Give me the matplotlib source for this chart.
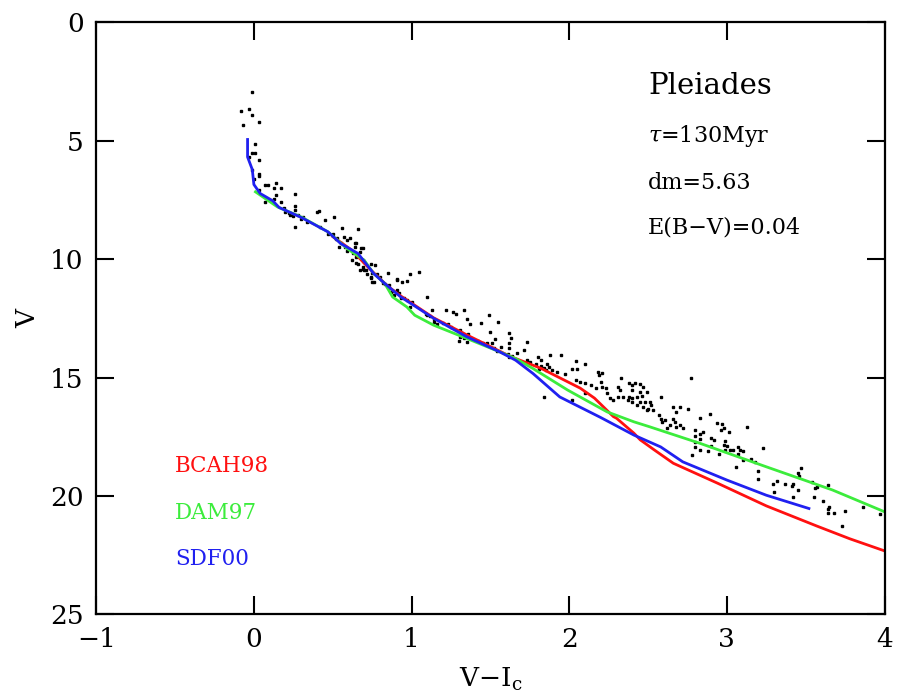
#
# Pleiades colour-magnitude diagram with three isochrone models
#

import matplotlib
matplotlib.use("Agg")
import matplotlib.pyplot as plt

# observed stars (V-Ic, V)
star_vi = [-0.01, -0.08, -0.03, -0.01, 0.03, -0.07, 0.01, -0.01, 0.01, -0.03,
           0.03, -0.01, 0.03, 0.03, 0.00, 0.03, 0.07, 0.09, 0.14, 0.13,
           0.17, 0.14, 0.13, 0.07, 0.17, 0.26, 0.26, 0.19, 0.26, 0.20,
           0.23, 0.28, 0.31, 0.30, 0.41, 0.40, 0.45, 0.51, 0.26, 0.34,
           0.42, 0.22, 0.25,
           0.56, 0.66, 0.57, 0.61, 0.59, 0.65, 0.68, 0.69, 0.53, 0.55,
           0.54, 0.63, 0.65, 0.65, 0.70, 0.69, 0.74, 0.77, 0.70, 0.72,
           0.74, 0.78, 0.80, 0.85, 0.75, 0.83, 0.86, 0.87, 0.91, 0.94,
           0.97, 0.99, 1.05, 0.92, 0.95, 0.99, 1.10, 1.13, 1.22, 1.26,
           1.28, 1.33, 1.35, 1.49, 1.55, 1.44, 1.37, 1.10, 1.14, 1.23,
           0.47, 0.50, 0.64, 0.52, 0.58, 0.59, 0.67, 0.62, 0.66, 0.69,
           0.69, 0.71, 0.75, 0.74, 0.76, 0.82, 0.86, 0.91, 0.88, 0.91,
           0.89, 0.93, 0.97, 1.00, 0.64, 0.67,
           1.09, 1.12, 1.14, 1.16, 1.20, 1.25, 1.31, 1.32, 1.36, 1.50,
           1.62, 1.30, 1.35, 1.42, 1.45, 1.48, 1.51, 1.53, 1.63, 1.62,
           1.57, 1.52, 1.54, 1.62, 1.73, 1.71, 1.61, 1.67, 1.64, 1.62,
           1.73, 1.75, 1.80, 1.82, 1.79, 1.88, 1.86, 1.82, 1.84, 1.87,
           1.89, 1.92, 1.81, 1.85, 1.31, 1.33, 1.84,
           1.95, 2.04, 2.10, 1.97, 2.02, 2.05, 2.18, 2.21, 2.19, 2.04,
           2.07, 2.10, 2.14, 2.20, 2.21, 2.17, 2.23, 2.24, 2.26, 2.28,
           2.10, 2.02, 2.33, 2.38, 2.40, 2.42, 2.45, 2.47, 2.31, 2.32,
           2.40, 2.45, 2.49, 2.34, 2.38, 2.40, 2.43, 2.46, 2.37, 2.40,
           2.45, 2.48, 2.51, 2.31, 2.43, 2.47, 2.50, 2.52, 2.58, 2.53,
           2.49, 2.57, 2.58, 2.61, 2.59, 2.66, 2.68, 2.66, 2.67, 2.64,
           2.62, 2.68,
           2.77, 2.70, 2.75, 2.83, 2.89, 2.94, 2.97, 2.98, 2.96, 3.01,
           3.13, 2.70, 2.72, 2.80, 2.85, 2.83, 2.80, 2.90, 2.92, 2.83,
           2.99, 2.80, 2.90, 2.80, 2.83, 2.98, 3.00, 2.99, 3.02, 3.04,
           3.07, 3.08, 3.10, 2.88, 2.95, 2.78, 3.23, 3.07, 3.10, 3.15,
           3.18, 3.06, 3.20, 3.20,
           3.29, 3.32, 3.46, 3.30, 3.47, 3.45, 3.37, 3.41, 3.42, 3.54,
           3.45, 3.56, 3.57, 3.64, 3.42, 3.55, 3.61, 3.65, 3.64, 3.64,
           3.68, 3.75, 3.86, 3.73, 3.97]
star_v = [2.93, 3.76, 3.68, 3.93, 4.23, 4.35, 5.14, 5.50, 5.50, 5.71,
          5.83, 6.22, 6.39, 6.50, 6.63, 7.09, 6.89, 6.89, 6.78, 6.99,
          7.01, 7.30, 7.47, 7.61, 7.57, 7.27, 7.77, 7.84, 7.94, 8.03,
          8.15, 8.15, 8.22, 8.29, 7.98, 8.03, 8.33, 8.22, 8.64, 8.43,
          8.64, 8.07, 8.19,
          8.68, 8.71, 9.06, 9.09, 9.20, 9.34, 9.53, 9.55, 9.13, 9.34,
          9.48, 9.76, 9.91, 10.16, 10.12, 10.33, 10.19, 10.26, 10.47, 10.61,
          10.75, 10.61, 10.75, 10.58, 10.96, 11.06, 11.24, 11.38, 10.89, 10.96,
          10.92, 10.61, 10.54, 11.45, 11.66, 12.02, 11.60, 12.13, 12.16, 12.23,
          12.30, 12.16, 12.51, 12.37, 12.65, 12.69, 12.72, 12.37, 12.55, 12.72,
          8.96, 8.92, 9.32, 9.17, 9.48, 9.65, 9.72, 10.05, 10.19, 10.05,
          10.40, 10.47, 10.58, 10.78, 10.96, 11.03, 11.10, 10.86, 11.34, 11.31,
          11.52, 11.66, 11.73, 11.81, 9.48, 10.47,
          12.30, 12.41, 12.65, 12.72, 12.69, 12.86, 13.00, 13.14, 13.18, 13.07,
          13.10, 13.46, 13.49, 13.46, 13.54, 13.56, 13.54, 13.37, 13.35, 13.54,
          13.71, 13.77, 13.89, 13.77, 13.49, 13.85, 14.01, 13.98, 14.10, 14.15,
          14.27, 14.34, 14.15, 14.27, 14.41, 14.07, 14.41, 14.52, 14.58, 14.55,
          14.69, 14.76, 14.62, 14.69, 13.28, 13.35, 15.82,
          14.06, 14.30, 14.41, 14.87, 14.66, 14.62, 14.76, 14.83, 14.90, 15.11,
          15.18, 15.23, 15.32, 15.18, 15.39, 15.46, 15.46, 15.67, 15.88, 15.96,
          15.65, 15.96, 15.04, 15.25, 15.32, 15.25, 15.28, 15.39, 15.39, 15.53,
          15.53, 15.61, 15.61, 15.82, 15.84, 15.88, 15.84, 15.79, 15.96, 16.03,
          16.03, 16.03, 16.03, 15.82, 16.17, 16.24, 16.31, 16.17, 15.82, 16.38,
          16.38, 16.59, 16.73, 16.80, 16.87, 16.24, 16.45, 16.73, 16.87, 17.01,
          17.15, 17.08,
          15.01, 16.26, 16.35, 16.70, 16.52, 16.94, 16.97, 17.15, 17.22, 17.29,
          17.08, 17.01, 17.15, 17.22, 17.28, 17.39, 17.48, 17.57, 17.64, 17.61,
          17.69, 17.72, 17.90, 17.95, 18.04, 17.85, 17.90, 18.04, 18.04, 18.04,
          17.95, 18.04, 18.10, 18.11, 18.21, 18.25, 17.99, 18.21, 18.49, 18.46,
          18.56, 18.77, 18.95, 19.29,
          19.51, 19.36, 19.16, 19.83, 18.81, 19.02, 19.51, 19.59, 19.51, 19.40,
          19.76, 19.68, 19.64, 19.54, 20.04, 20.04, 20.21, 20.46, 20.53, 20.74,
          20.74, 20.63, 20.46, 21.27, 20.77]

# isochrones
bcah_vi = [0.50, 0.62, 0.74, 0.85, 0.93, 1.14, 1.35, 1.63, 1.82, 2.07,
           2.16, 2.28, 2.30, 2.41, 2.45, 2.54, 2.66, 2.94, 3.25, 3.57,
           3.78, 4.00]
bcah_v = [9.05, 9.62, 10.45, 11.15, 11.55, 12.48, 13.20, 14.12, 14.61, 15.45,
          15.87, 16.65, 16.72, 17.35, 17.63, 18.06, 18.62, 19.46, 20.42, 21.27,
          21.81, 22.32]

dam_vi = [0.01, 0.15, 0.30, 0.47, 0.59, 0.70, 0.76, 0.83, 0.88, 0.97,
          1.02, 1.14, 1.35, 1.56, 1.66, 1.77, 1.99, 2.24, 2.41, 2.51,
          2.83, 3.25, 3.67, 4.00]
dam_v = [7.16, 7.80, 8.22, 8.85, 9.55, 10.05, 10.61, 11.03, 11.60, 12.02,
         12.37, 12.79, 13.35, 13.92, 14.20, 14.62, 15.53, 16.45, 16.87, 17.08,
         17.78, 18.77, 19.75, 20.67]

sdf_vi = [-0.04, -0.04, -0.01, 0.00, 0.04, 0.12, 0.16, 0.30, 0.47, 0.55,
          0.66, 0.76, 0.83, 0.93, 1.14, 1.35, 1.56, 1.66, 1.77, 1.94,
          2.20, 2.41, 2.58, 2.72, 3.00, 3.25, 3.52]
sdf_v = [4.95, 5.69, 6.22, 6.85, 7.23, 7.54, 7.82, 8.24, 8.85, 9.34,
         9.76, 10.61, 11.03, 11.59, 12.50, 13.28, 13.92, 14.27, 14.83, 15.82,
         16.69, 17.43, 17.93, 18.56, 19.33, 19.97, 20.53]

plt.rcParams["font.family"] = ["DejaVu Serif"]
plt.rcParams["mathtext.fontset"] = "dejavuserif"

fig = plt.figure(figsize=(8.99, 6.95), dpi=100)
ax = fig.add_axes([0.107, 0.116, 0.877, 0.852])

ax.plot(star_vi, star_v, "ks", markersize=2.0, linestyle="none")
ax.plot(bcah_vi, bcah_v, color="#ff1010", linewidth=2.0)
ax.plot(dam_vi, dam_v, color="#3cec3c", linewidth=2.0)
ax.plot(sdf_vi, sdf_v, color="#2020f0", linewidth=2.0)

ax.set_xlim(-1, 4)
ax.set_ylim(25, 0)
ax.set_xticks([-1, 0, 1, 2, 3, 4])
ax.set_yticks([0, 5, 10, 15, 20, 25])
ax.set_xticklabels(["\u22121", "0", "1", "2", "3", "4"])
ax.tick_params(direction="in", top=True, right=True, length=13, width=1.5,
               labelsize=19, pad=9)
for s in ax.spines.values():
    s.set_linewidth(1.6)

ax.set_xlabel("V\u2212I$_{\\rm c}$", fontsize=19, labelpad=10)
ax.set_ylabel("V", fontsize=19, labelpad=7)

# cluster info
ax.text(0.70, 0.892, "Pleiades", transform=ax.transAxes, fontsize=21, va="center")
ax.text(0.70, 0.808, "$\\tau$=130Myr", transform=ax.transAxes, fontsize=16, va="center")
ax.text(0.70, 0.729, "dm=5.63", transform=ax.transAxes, fontsize=16, va="center")
ax.text(0.70, 0.653, "E(B\u2212V)=0.04", transform=ax.transAxes, fontsize=16, va="center")

# model names
ax.text(0.100, 0.251, "BCAH98", transform=ax.transAxes, fontsize=15.5,
        color="#ff1010", va="center")
ax.text(0.100, 0.172, "DAM97", transform=ax.transAxes, fontsize=15.5,
        color="#3cec3c", va="center")
ax.text(0.100, 0.093, "SDF00", transform=ax.transAxes, fontsize=15.5,
        color="#2020f0", va="center")

plt.savefig("out.png", dpi=100)
